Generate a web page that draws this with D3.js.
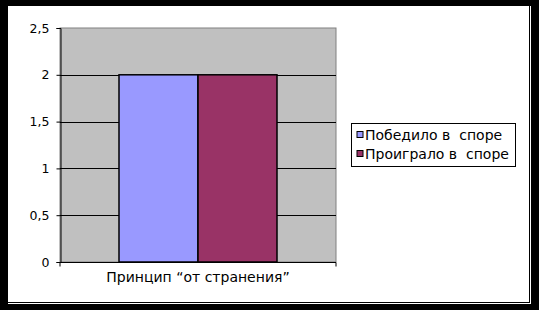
<!DOCTYPE html>
<html>
<head>
<meta charset="utf-8">
<script src="https://cdn.jsdelivr.net/npm/d3@7"></script>
<style>
  html, body { margin: 0; padding: 0; background: #000; }
  svg { display: block; }
  text { font-family: "DejaVu Sans", sans-serif; fill: #000; }
</style>
</head>
<body>
<svg></svg>
<script>
"use strict"

// chart data
let categories = ["Принцип “от странения”"]
let seriesNames = ["Победило в  споре", "Проиграло в  споре"]
let seriesValues = [[2], [2]]   // one value per category
let seriesColors = ["#9999FF", "#993366"]
let yTicks = [0, 0.5, 1, 1.5, 2, 2.5]

let width = 539, height = 310
let svg = d3.select("svg").attr("width", width).attr("height", height)

// white sheet with the thin inner frame (shadow look)
svg.append("rect").attr("x", 8).attr("y", 6).attr("width", 523).attr("height", 298).attr("fill", "#fff")
svg.append("line").attr("x1", 529.5).attr("x2", 529.5).attr("y1", 6).attr("y2", 303)
  .attr("stroke", "#000").attr("stroke-width", 1)
svg.append("line").attr("x1", 8).attr("x2", 530).attr("y1", 302.5).attr("y2", 302.5)
  .attr("stroke", "#000").attr("stroke-width", 1)

let plot = {left: 60, right: 336, top: 28, bottom: 262}

let y = d3.scaleLinear().domain([0, 2.5]).range([plot.bottom, plot.top])
let x0 = d3.scaleBand().domain(categories).range([plot.left, plot.right])
  .paddingInner(0.3).paddingOuter(0.2614)
let x1 = d3.scaleBand().domain(seriesNames).range([0, x0.bandwidth()])

/* plot background */
svg.append("rect")
  .attr("x", plot.left).attr("y", plot.top)
  .attr("width", plot.right - plot.left).attr("height", plot.bottom - plot.top)
  .attr("fill", "#C0C0C0")
  .attr("stroke", "#808080").attr("stroke-width", 1)

/* gridlines */
svg.append("g").selectAll("line")
  .data(yTicks.filter(d => d > 0 && d < 2.5))
  .enter().append("line")
  .attr("x1", plot.left).attr("x2", plot.right)
  .attr("y1", d => Math.round(y(d)) + 0.5).attr("y2", d => Math.round(y(d)) + 0.5)
  .attr("stroke", "#000")

/* bars */
let group = svg.append("g").selectAll("g")
  .data(categories)
  .enter().append("g")
  .attr("transform", d => "translate(" + x0(d) + ",0)")

group.selectAll("rect")
  .data((d, i) => seriesNames.map((s, k) => ({name: s, value: seriesValues[k][i], color: seriesColors[k]})))
  .enter().append("rect")
  .attr("x", d => x1(d.name))
  .attr("y", d => y(d.value))
  .attr("width", x1.bandwidth())
  .attr("height", d => y(0) - y(d.value))
  .attr("fill", d => d.color)
  .attr("stroke", "#000").attr("stroke-width", 1.5)

/* y axis */
let yAxis = svg.append("g")
  .attr("transform", "translate(" + (plot.left + 0.5) + ",0)")
  .call(d3.axisLeft(y).tickValues(yTicks).tickSize(4).tickPadding(7)
    .tickFormat(d => String(d).replace(".", ",")))
yAxis.select(".domain").attr("stroke", "#000")
yAxis.selectAll("text").attr("font-size", "12.5px").attr("font-family", "DejaVu Sans")

/* x axis */
let xAxis = svg.append("g")
  .attr("transform", "translate(0," + (plot.bottom + 0.5) + ")")
  .call(d3.axisBottom(x0).tickSize(0).tickPadding(10))
xAxis.select(".domain").attr("stroke", "#000").attr("d", "M" + plot.left + ",4V0H" + plot.right + "V4")
xAxis.selectAll("text").attr("font-size", "14px").attr("font-family", "DejaVu Sans")

/* legend */
let legend = svg.append("g").attr("transform", "translate(351.5,123.5)")
legend.append("rect").attr("width", 164).attr("height", 43)
  .attr("fill", "#fff").attr("stroke", "#000")
let item = legend.selectAll(".item")
  .data(seriesNames)
  .enter().append("g")
  .attr("class", "item")
  .attr("transform", (d, i) => "translate(0," + (i * 19) + ")")
item.append("rect")
  .attr("x", 5.5).attr("y", 8).attr("width", 6).attr("height", 6)
  .attr("fill", (d, i) => seriesColors[i]).attr("stroke", "#000")
item.append("text")
  .attr("x", 13.5).attr("y", 16.5)
  .attr("font-size", "14px")
  .style("white-space", "pre")
  .text(d => d)
</script>
</body>
</html>
